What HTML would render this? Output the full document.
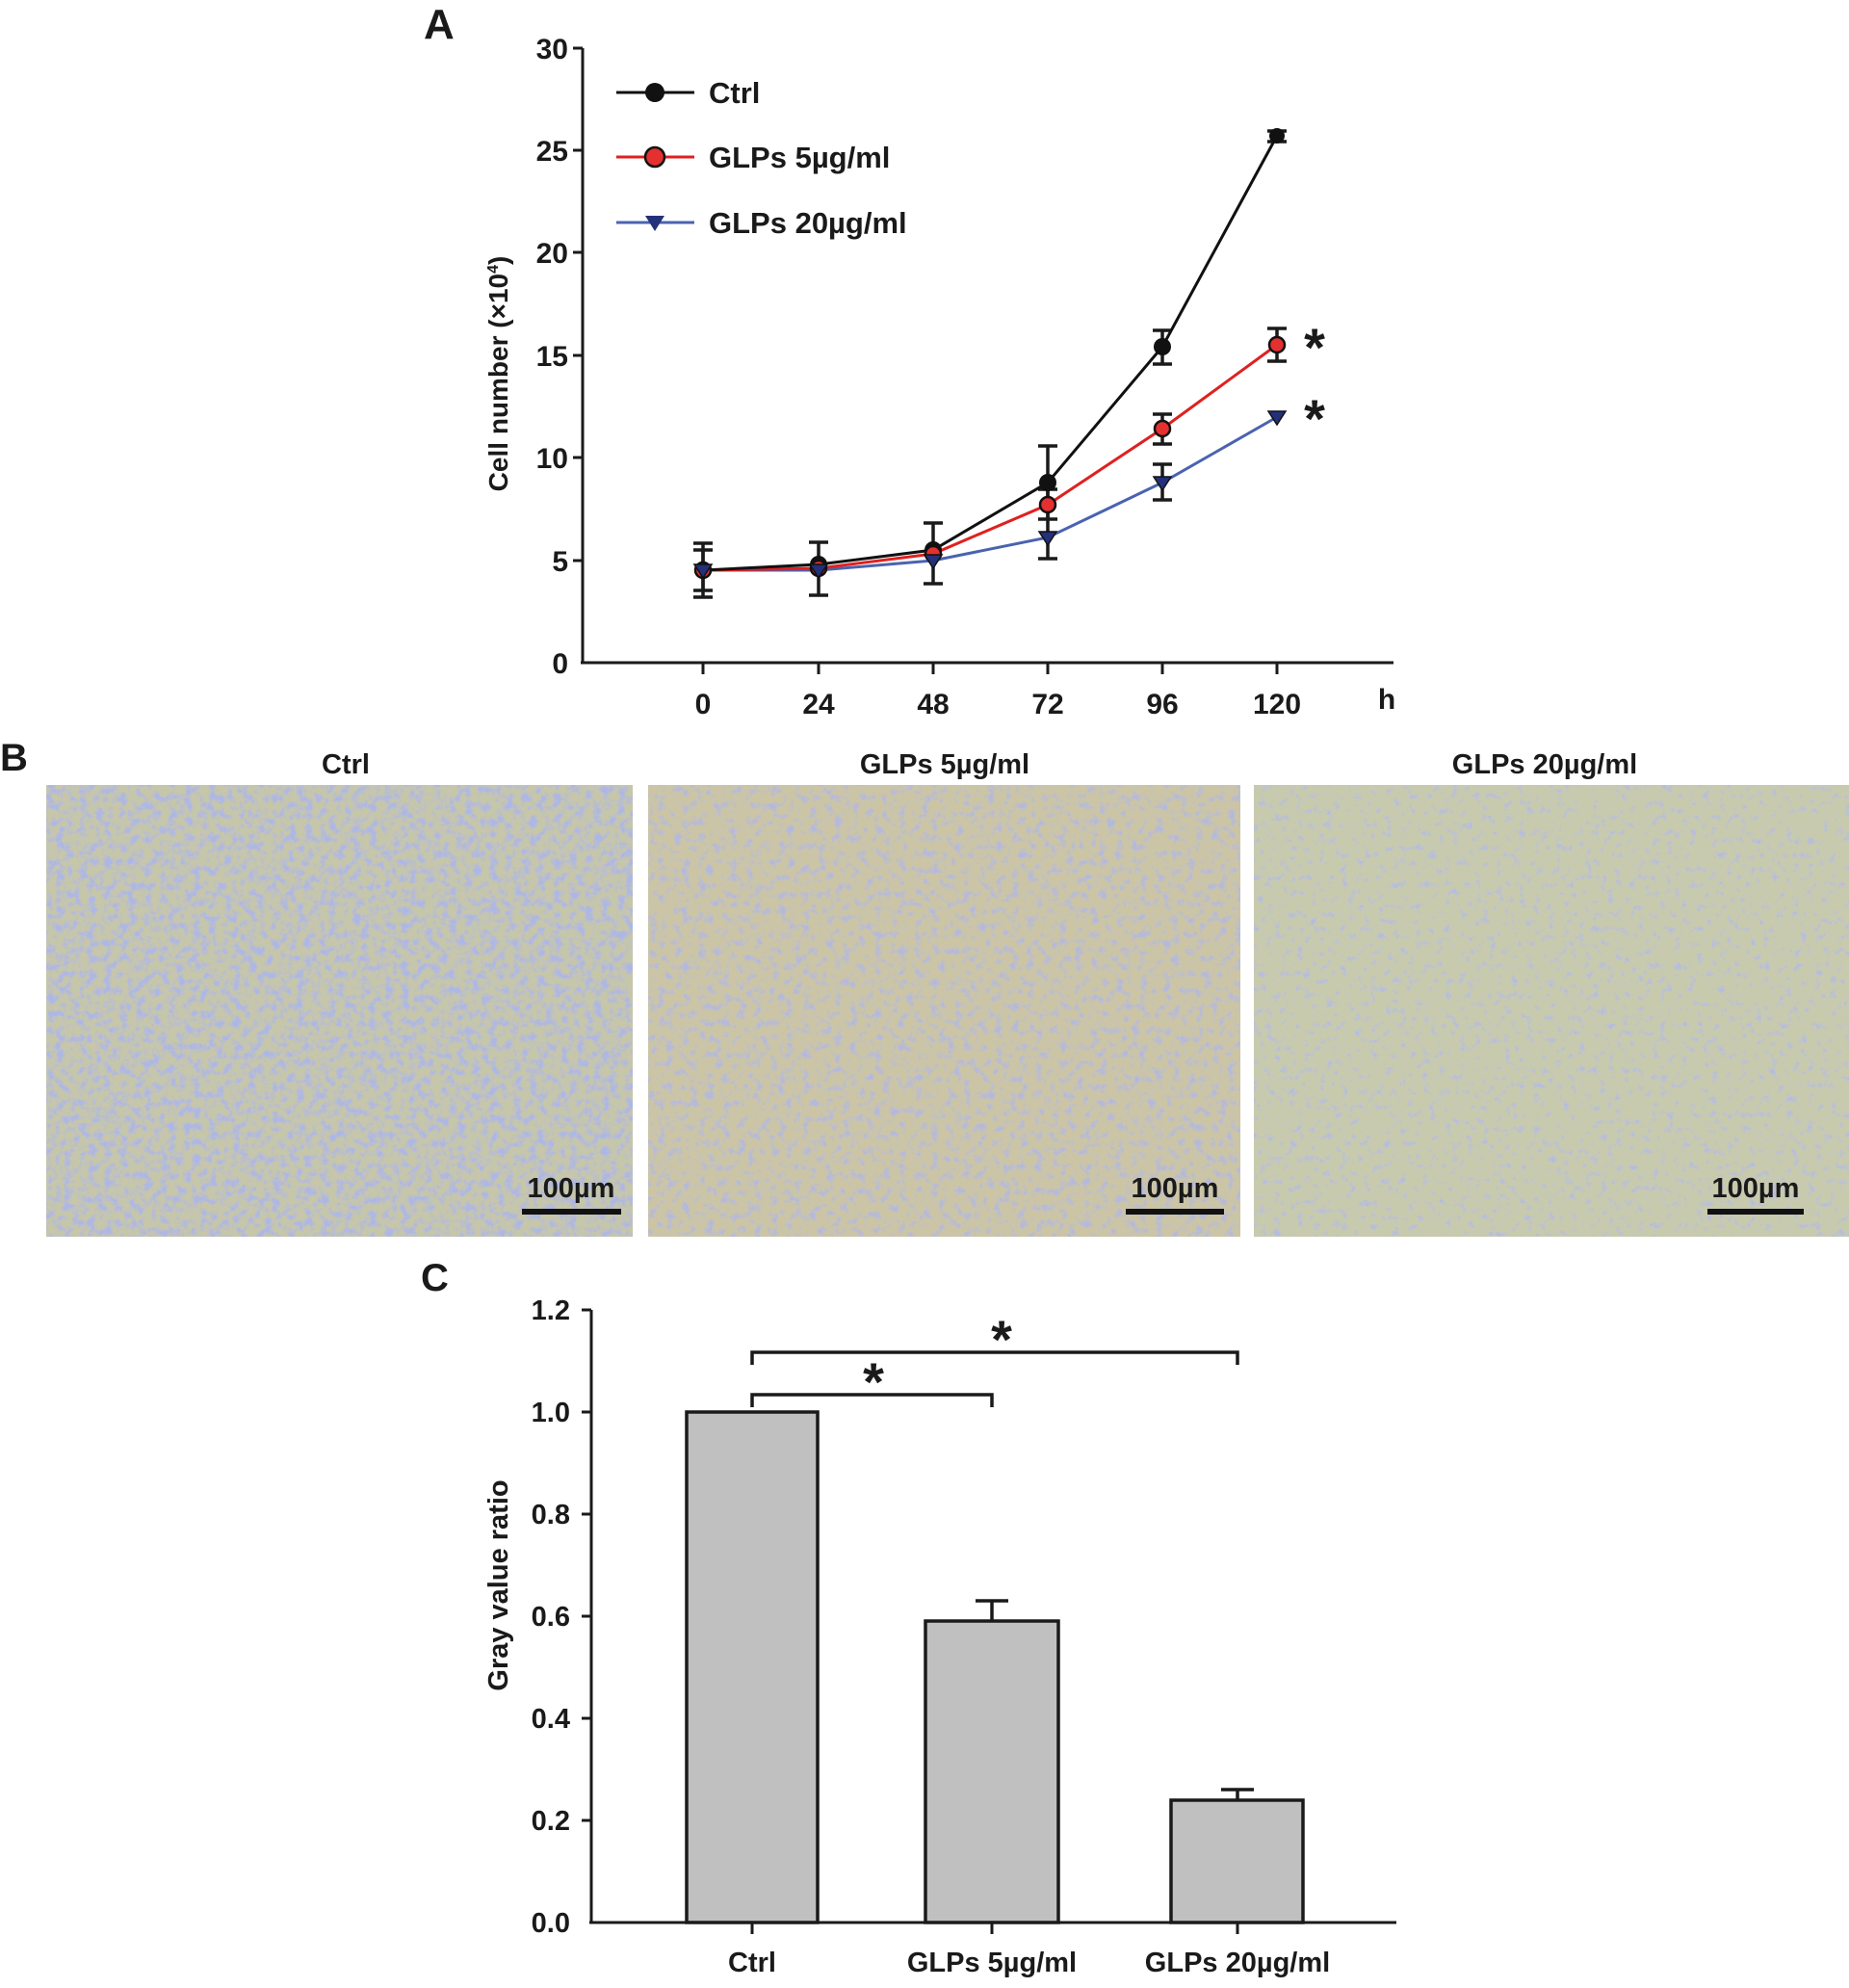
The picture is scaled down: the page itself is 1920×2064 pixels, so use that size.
<!DOCTYPE html>
<html><head><meta charset="utf-8"><style>html,body{margin:0;padding:0;background:#fff}svg{display:block}text{font-family:"Liberation Sans",sans-serif;font-weight:bold;fill:#1a1a1a}</style></head>
<body>
<svg width="1920" height="2064" viewBox="0 0 1920 2064" xmlns="http://www.w3.org/2000/svg">
<defs>
<filter id="cells" x="0" y="0" width="100%" height="100%">
<feTurbulence type="fractalNoise" baseFrequency="0.12" numOctaves="3" seed="3" result="n"/>
<feColorMatrix in="n" type="matrix" values="0 0 0 0 0.42  0 0 0 0 0.47  0 0 0 0 0.78  0 0 -3.5 0 1.95" result="spots"/>
<feComposite in="spots" in2="SourceGraphic" operator="over"/>
</filter>
<filter id="cells2" x="0" y="0" width="100%" height="100%">
<feTurbulence type="fractalNoise" baseFrequency="0.12" numOctaves="3" seed="7" result="n"/>
<feColorMatrix in="n" type="matrix" values="0 0 0 0 0.45  0 0 0 0 0.48  0 0 0 0 0.72  0 0 -3.5 0 1.75" result="spots"/>
<feComposite in="spots" in2="SourceGraphic" operator="over"/>
</filter>
<filter id="cells3" x="0" y="0" width="100%" height="100%">
<feTurbulence type="fractalNoise" baseFrequency="0.13" numOctaves="3" seed="11" result="n"/>
<feColorMatrix in="n" type="matrix" values="0 0 0 0 0.45  0 0 0 0 0.50  0 0 0 0 0.75  0 0 -3.5 0 1.55" result="spots"/>
<feComposite in="spots" in2="SourceGraphic" operator="over"/>
</filter>
</defs>

<!-- Panel A -->
<text x="440" y="40" font-size="44">A</text>
<g stroke="#1a1a1a" stroke-width="3" fill="none">
<line x1="605" y1="50" x2="605" y2="688"/>
<line x1="603" y1="688" x2="1447" y2="688"/>
<line x1="595" y1="50" x2="605" y2="50"/><line x1="595" y1="156" x2="605" y2="156"/><line x1="595" y1="262" x2="605" y2="262"/><line x1="595" y1="369" x2="605" y2="369"/><line x1="595" y1="475" x2="605" y2="475"/><line x1="595" y1="582" x2="605" y2="582"/>
<line x1="730" y1="688" x2="730" y2="700"/><line x1="850" y1="688" x2="850" y2="700"/><line x1="969" y1="688" x2="969" y2="700"/><line x1="1088" y1="688" x2="1088" y2="700"/><line x1="1207" y1="688" x2="1207" y2="700"/><line x1="1326" y1="688" x2="1326" y2="700"/>
</g>
<g font-size="30" text-anchor="end">
<text x="590" y="61">30</text><text x="590" y="167">25</text><text x="590" y="273">20</text><text x="590" y="380">15</text><text x="590" y="486">10</text><text x="590" y="593">5</text><text x="590" y="699">0</text>
</g>
<g font-size="30" text-anchor="middle">
<text x="730" y="741">0</text><text x="850" y="741">24</text><text x="969" y="741">48</text><text x="1088" y="741">72</text><text x="1207" y="741">96</text><text x="1326" y="741">120</text>
<text x="1440" y="736">h</text>
</g>
<text transform="translate(527,388) rotate(-90)" font-size="28" text-anchor="middle">Cell number (×10<tspan font-size="16" dy="-10">4</tspan><tspan dy="10">)</tspan></text>

<g stroke="#1a1a1a" stroke-width="3.5">
<path d="M730 564V620M720 564H740M720 620H740"/>
<path d="M730 571V613M720 571H740M720 613H740"/>
<path d="M850 563V618M840 563H860M840 618H860"/>
<path d="M969 543V606M959 543H979M959 606H979"/>
<path d="M1088 463V539M1078 463H1098M1078 539H1098"/>
<path d="M1088 508V580M1078 508H1098M1078 580H1098"/>
<path d="M1207 343V378M1197 343H1217M1197 378H1217"/>
<path d="M1207 430V461M1197 430H1217M1197 461H1217"/>
<path d="M1207 482V519M1197 482H1217M1197 519H1217"/>
<path d="M1326 136V147M1316 136H1336M1316 147H1336"/>
<path d="M1326 341V375M1316 341H1336M1316 375H1336"/>
</g>
<polyline points="730,592 850,592 969,582 1088,558 1207,501 1326,433" fill="none" stroke="#4a63b0" stroke-width="3"/>
<polyline points="730,592 850,590 969,575 1088,524 1207,445 1326,358" fill="none" stroke="#e02020" stroke-width="3"/>
<polyline points="730,592 850,586 969,571 1088,501 1207,360 1326,141" fill="none" stroke="#111" stroke-width="3"/>
<g fill="#111"><circle cx="730" cy="592" r="9"/><circle cx="850" cy="586" r="9"/><circle cx="969" cy="571" r="9"/><circle cx="1088" cy="501" r="9"/><circle cx="1207" cy="360" r="9"/><circle cx="1326" cy="141" r="8"/></g>
<g fill="#e53030" stroke="#111" stroke-width="2.5"><circle cx="730" cy="592" r="8"/><circle cx="850" cy="590" r="8"/><circle cx="969" cy="575" r="8"/><circle cx="1088" cy="524" r="8"/><circle cx="1207" cy="445" r="8"/><circle cx="1326" cy="358" r="8"/></g>
<g fill="#23307a" stroke="#111" stroke-width="1.5">
<path d="M721 586H739L730 600Z"/><path d="M841 586H859L850 600Z"/><path d="M960 576H978L969 590Z"/><path d="M1079 552H1097L1088 566Z"/><path d="M1198 495H1216L1207 509Z"/><path d="M1317 427H1335L1326 441Z"/>
</g>
<text x="1365" y="380" font-size="56" font-weight="normal" text-anchor="middle">*</text>
<text x="1365" y="454" font-size="56" font-weight="normal" text-anchor="middle">*</text>
<line x1="640" y1="96" x2="721" y2="96" stroke="#111" stroke-width="3"/><circle cx="680" cy="96" r="10" fill="#111"/>
<line x1="640" y1="163" x2="721" y2="163" stroke="#e02020" stroke-width="3"/><circle cx="680" cy="163" r="10" fill="#e53030" stroke="#111" stroke-width="2.5"/>
<line x1="640" y1="231" x2="721" y2="231" stroke="#4a63b0" stroke-width="3"/><path d="M670 224H690L680 240Z" fill="#23307a"/>
<g font-size="31"><text x="736" y="107">Ctrl</text><text x="736" y="174">GLPs 5µg/ml</text><text x="736" y="242">GLPs 20µg/ml</text></g>

<!-- Panel B -->
<text x="0" y="800" font-size="40">B</text>
<g font-size="29" text-anchor="middle"><text x="359" y="803">Ctrl</text><text x="981" y="803">GLPs 5µg/ml</text><text x="1604" y="803">GLPs 20µg/ml</text></g>
<rect x="48" y="815" width="609" height="469" fill="#c6c6aa" filter="url(#cells)"/>
<rect x="673" y="815" width="615" height="469" fill="#cbc5a6" filter="url(#cells2)"/>
<rect x="1302" y="815" width="618" height="469" fill="#c8caae" filter="url(#cells3)"/>
<g font-size="29" text-anchor="middle"><text x="593" y="1243">100µm</text><text x="1220" y="1243">100µm</text><text x="1823" y="1243">100µm</text></g>
<g stroke="#111" stroke-width="6"><line x1="542" y1="1258" x2="645" y2="1258"/><line x1="1169" y1="1258" x2="1271" y2="1258"/><line x1="1773" y1="1258" x2="1873" y2="1258"/></g>

<!-- Panel C -->
<text x="437" y="1340" font-size="40">C</text>
<g stroke="#1a1a1a" stroke-width="3" fill="none">
<line x1="614" y1="1360" x2="614" y2="1996"/>
<line x1="612" y1="1996" x2="1450" y2="1996"/>
<line x1="604" y1="1360" x2="614" y2="1360"/><line x1="604" y1="1466" x2="614" y2="1466"/><line x1="604" y1="1572" x2="614" y2="1572"/><line x1="604" y1="1678" x2="614" y2="1678"/><line x1="604" y1="1784" x2="614" y2="1784"/><line x1="604" y1="1890" x2="614" y2="1890"/>
<line x1="781" y1="1996" x2="781" y2="2008"/><line x1="1030" y1="1996" x2="1030" y2="2008"/><line x1="1285" y1="1996" x2="1285" y2="2008"/>
</g>
<g font-size="29" text-anchor="end">
<text x="592" y="1370">1.2</text><text x="592" y="1476">1.0</text><text x="592" y="1582">0.8</text><text x="592" y="1688">0.6</text><text x="592" y="1794">0.4</text><text x="592" y="1900">0.2</text><text x="592" y="2006">0.0</text>
</g>
<text transform="translate(527,1646) rotate(-90)" font-size="29" text-anchor="middle">Gray value ratio</text>
<g fill="#c0c0c0" stroke="#1a1a1a" stroke-width="3.5">
<rect x="713" y="1466" width="136" height="530"/>
<rect x="961" y="1683" width="138" height="313"/>
<rect x="1216" y="1869" width="137" height="127"/>
</g>
<g stroke="#1a1a1a" stroke-width="3.5" fill="none">
<path d="M1030 1683V1662M1013 1662H1047"/>
<path d="M1285 1869V1858M1268 1858H1302"/>
<path d="M781 1417V1404H1285V1417"/>
<path d="M781 1461V1448H1030V1461"/>
</g>
<text x="1040" y="1410" font-size="56" font-weight="normal" text-anchor="middle">*</text>
<text x="907" y="1454" font-size="56" font-weight="normal" text-anchor="middle">*</text>
<g font-size="29" text-anchor="middle"><text x="781" y="2047">Ctrl</text><text x="1030" y="2047">GLPs 5µg/ml</text><text x="1285" y="2047">GLPs 20µg/ml</text></g>
</svg>
</body></html>
